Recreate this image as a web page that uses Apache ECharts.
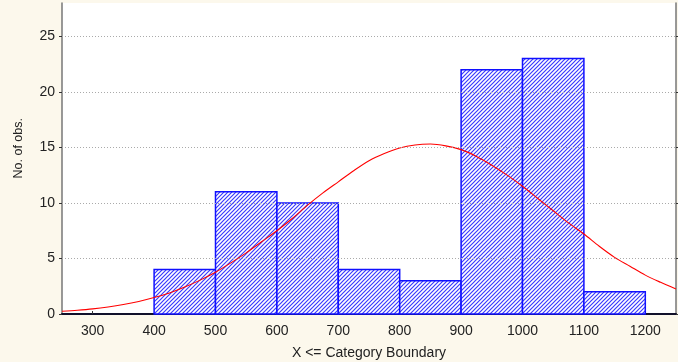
<!DOCTYPE html>
<html><head><meta charset="utf-8">
<script src="https://cdn.jsdelivr.net/npm/echarts@6/dist/echarts.min.js"></script>
<style>html,body{margin:0;padding:0;background:#fff}#c{width:678px;height:362px}</style>
</head><body><div id="c"></div>
<script>
// Histogram bins
const binStarts = [400, 500, 600, 700, 800, 900, 1000, 1100];
const binEnds   = [500, 600, 700, 800, 900, 1000, 1100, 1200];
const counts    = [4, 11, 10, 4, 3, 22, 23, 2];
// Fitted normal curve
const curveX = [250,275,300,325,350,375,400,425,450,475,500,525,550,575,600,625,650,675,700,725,750,775,800,825,850,875,900,925,950,975,1000,1025,1050,1075,1100,1125,1150,1175,1200,1225,1250];
const curveY = [0.25,0.34,0.46,0.63,0.85,1.13,1.48,1.9,2.43,3.05,3.76,4.6,5.5,6.5,7.5,8.6,9.8,10.9,11.9,12.9,13.8,14.45,14.95,15.22,15.3,15.14,14.8,14.19,13.4,12.5,11.5,10.4,9.3,8.2,7.2,6.1,5.1,4.3,3.5,2.85,2.25];
// Tick labels
const xTicks = [300,400,500,600,700,800,900,1000,1100,1200];
const yTicks = [0,5,10,15,20,25];
const gridVals = [5,10,15,20,25];

const pc = document.createElement('canvas');
pc.width = 4; pc.height = 4;
const g = pc.getContext('2d');
g.fillStyle = '#ffffff'; g.fillRect(0,0,4,4);
g.strokeStyle = '#3a3aff'; g.lineWidth = 1.2;
g.beginPath();
g.moveTo(-1,5); g.lineTo(5,-1);
g.moveTo(-1,1); g.lineTo(1,-1);
g.moveTo(3,5); g.lineTo(5,3);
g.stroke();

const chart = echarts.init(document.getElementById('c'));
const font = '"Liberation Sans", Arial, sans-serif';
chart.setOption({
  backgroundColor: '#FCF8EC',
  animation: false,
  grid: {left: 62, right: 2, top: 3, bottom: 48, outerBoundsMode: 'none', containLabel: false,
         show: true, backgroundColor: '#ffffff', borderWidth: 0},
  xAxis: {
    type: 'value', min: 250, max: 1250,
    name: 'X <= Category Boundary', nameLocation: 'middle', nameGap: 32,
    nameTextStyle: {fontFamily: font, fontSize: 14, color: '#222'},
    axisLine: {show: true, onZero: false, lineStyle: {color: '#10102a', width: 2}},
    axisTick: {show: true, inside: true, length: 3, customValues: xTicks, lineStyle: {color: '#333'}},
    axisLabel: {customValues: xTicks, formatter: v => String(v), fontFamily: font, fontSize: 14, color: '#222', margin: 10},
    splitLine: {show: false}
  },
  yAxis: [{
    type: 'value', min: 0, max: 28,
    axisLine: {show: true, lineStyle: {color: '#777', width: 1.5}},
    axisTick: {show: true, length: 3, customValues: yTicks, lineStyle: {color: '#333'}},
    axisLabel: {customValues: yTicks, formatter: v => String(v), fontFamily: font, fontSize: 14, color: '#222', margin: 7},
    splitLine: {show: false}
  }, {
    type: 'value', min: 0, max: 28, position: 'right',
    axisLine: {show: true, lineStyle: {color: '#777', width: 1.5}},
    axisTick: {show: true, length: 3, customValues: yTicks, lineStyle: {color: '#333'}},
    axisLabel: {show: false},
    splitLine: {show: false}
  }],
  graphic: [{
    type: 'text', left: 12, top: 118, rotation: Math.PI / 2,
    style: {text: 'No. of obs.', font: '12.5px ' + font, fill: '#222'}
  }],
  series: [{
    type: 'custom',
    z: 2,
    data: binStarts.map((s, i) => [s, binEnds[i], counts[i]]),
    encode: {x: [0, 1], y: 2},
    renderItem: function (params, api) {
      const p0 = api.coord([api.value(0), api.value(2)]);
      const p1 = api.coord([api.value(1), 0]);
      return {
        type: 'rect',
        shape: {x: p0[0], y: p0[1], width: p1[0] - p0[0], height: p1[1] - p0[1]},
        style: {fill: {image: pc, repeat: 'repeat'}, stroke: '#1010ff', lineWidth: 1.5}
      };
    }
  }, {
    type: 'line',
    z: 3,
    data: curveX.map((x, i) => [x, curveY[i]]),
    smooth: 0.3, symbol: 'none',
    lineStyle: {color: '#ff0000', width: 1.1},
    markLine: {
      silent: true, symbol: 'none', label: {show: false},
      lineStyle: {color: '#aaaaaa', type: [1, 2], width: 1},
      data: gridVals.map(v => ({yAxis: v}))
    }
  }]
});
</script></body></html>
